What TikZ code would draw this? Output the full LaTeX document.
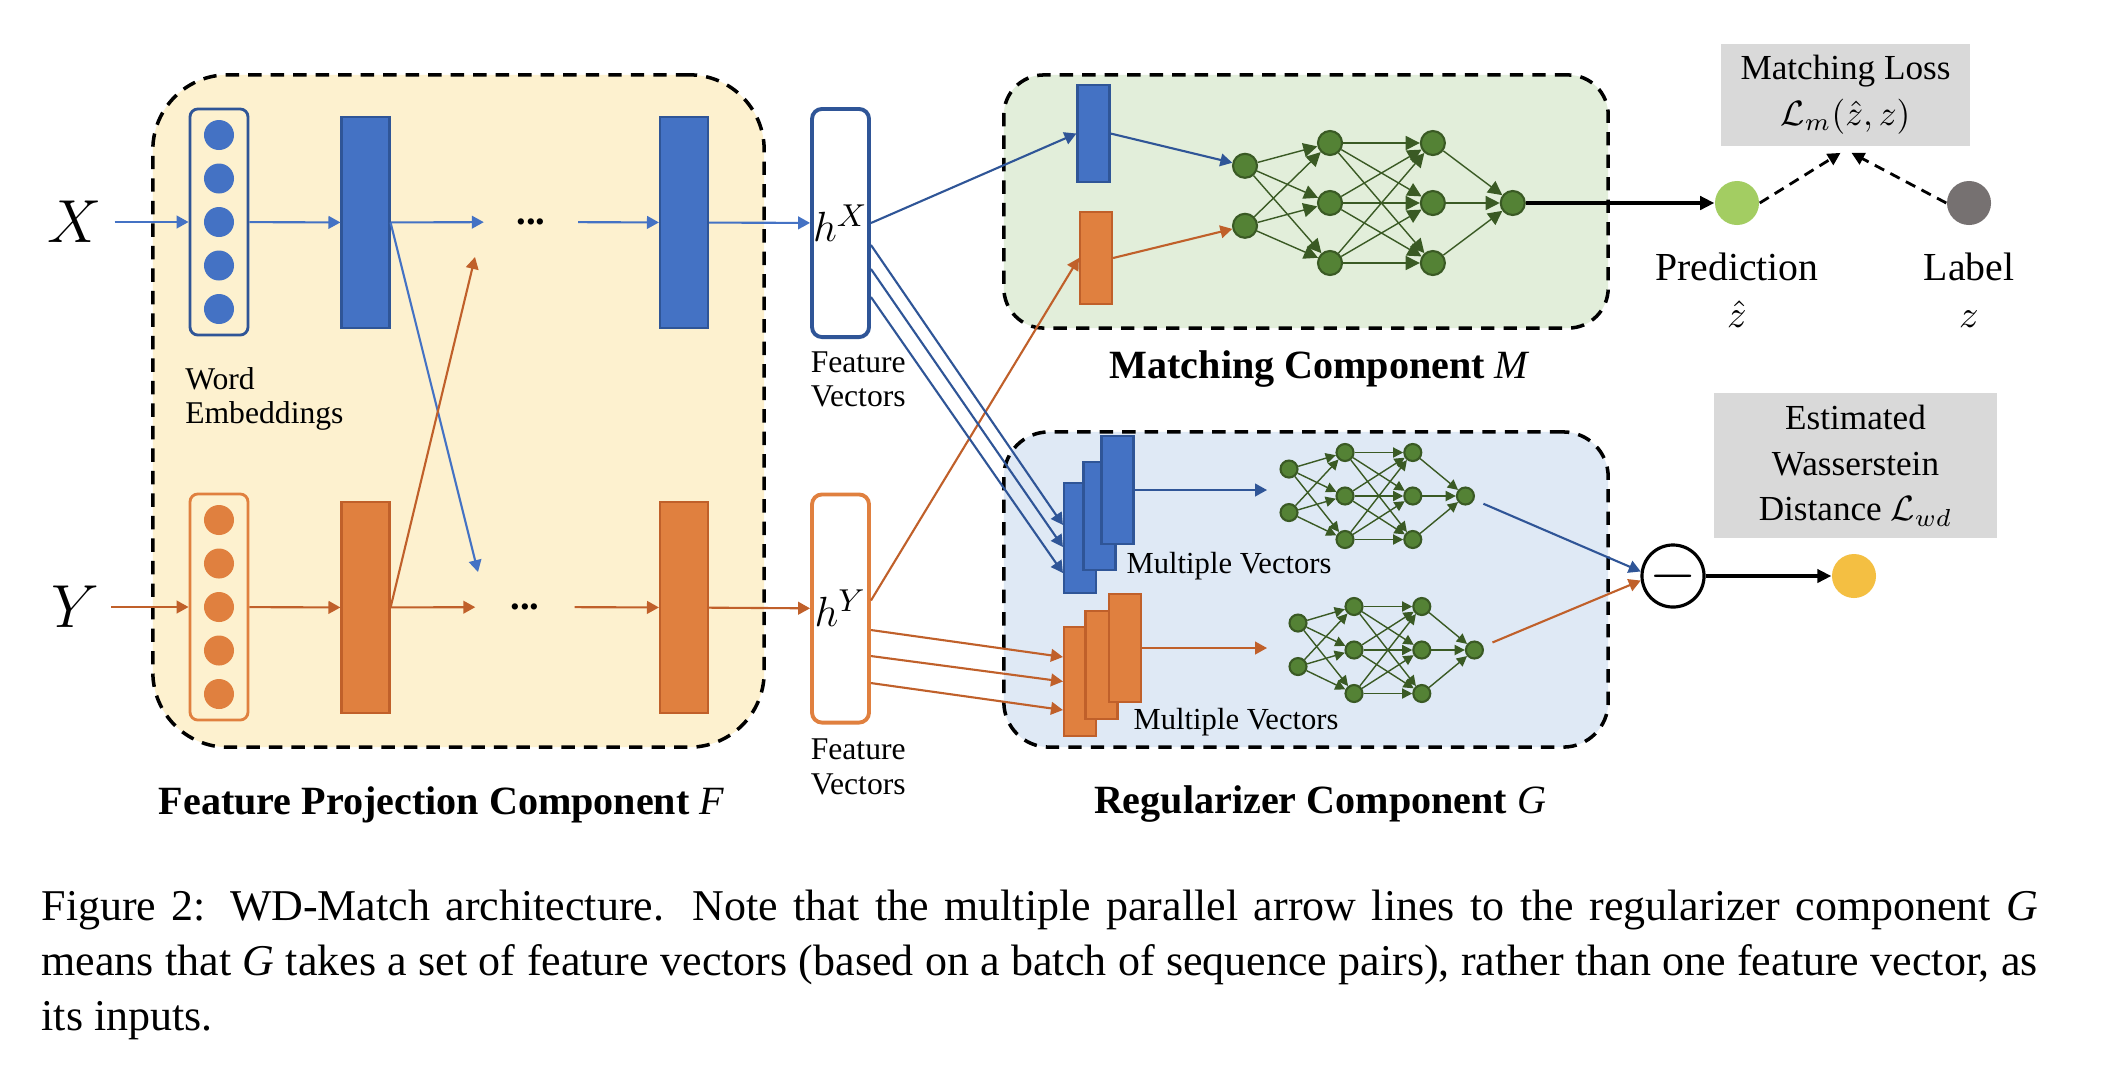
\documentclass[tikz,border=0pt]{standalone}
\usepackage{fontspec}
\setmainfont{Liberation Serif}
\usetikzlibrary{shapes.geometric, arrows.meta, positioning}

\definecolor{embblue}{HTML}{4472C4}
\definecolor{darkblue}{HTML}{2F5597}
\definecolor{emborange}{HTML}{E0803F}
\definecolor{darkorange}{HTML}{C0602A}
\definecolor{featbg}{HTML}{FDF1CF}
\definecolor{matchbg}{HTML}{E2EEDA}
\definecolor{regbg}{HTML}{DFE9F5}
\definecolor{nnfill}{HTML}{548235}
\definecolor{nnline}{HTML}{3A5A24}
\definecolor{lossgrey}{HTML}{D9D9D9}
\definecolor{predgreen}{HTML}{A3CD62}
\definecolor{labelgrey}{HTML}{767171}
\definecolor{wdyellow}{HTML}{F4BF42}

\tikzstyle{component} = [rectangle, draw=black, line width=1pt, dash pattern=on 3.8pt off 2.6pt]
\tikzstyle{embcol} = [rectangle, rounded corners=0.08cm, minimum width=0.58cm, minimum height=2.26cm, line width=0.8pt]
\tikzstyle{embdot} = [circle, minimum size=0.30cm, inner sep=0pt]
\tikzstyle{layer} = [rectangle, minimum width=0.48cm, minimum height=2.11cm, line width=0.6pt, inner sep=0pt]
\tikzstyle{smallvec} = [rectangle, minimum width=0.32cm, minimum height=0.95cm, line width=0.6pt, inner sep=0pt]
\tikzstyle{featvec} = [rectangle, rounded corners=0.1cm, minimum width=0.57cm, minimum height=2.28cm, fill=white, line width=1.1pt, inner sep=0pt]
\tikzstyle{neuron} = [circle, fill=nnfill, draw=nnline, line width=0.6pt, inner sep=0pt]
\tikzstyle{lossbox} = [rectangle, fill=lossgrey, align=center, font=\fontsize{10}{13}\selectfont]
\tikzstyle{outcirc} = [circle, minimum size=0.44cm, inner sep=0pt]
\tikzstyle{diffcirc} = [circle, draw=black, fill=white, line width=0.9pt, minimum size=0.44cm, inner sep=0pt, font=\fontsize{17}{17}\selectfont]
\tikzstyle{barrow} = [line width=0.6pt, draw=embblue, -{Triangle[length=3.4pt,width=3.6pt]}]
\tikzstyle{darrow} = [line width=0.6pt, draw=darkblue, -{Triangle[length=3.4pt,width=3.6pt]}]
\tikzstyle{oarrow} = [line width=0.6pt, draw=darkorange, -{Triangle[length=3.4pt,width=3.6pt]}]
\tikzstyle{arrow} = [line width=0.9pt, -{Triangle[length=4pt,width=3.8pt]}]
\tikzstyle{dasharrow} = [line width=0.8pt, dash pattern=on 3pt off 2pt, -{Triangle[length=3.6pt,width=3.6pt]}]
\tikzstyle{complabel} = [font=\fontsize{11.4}{13}\selectfont\bfseries]
\tikzstyle{smalllabel} = [font=\fontsize{9}{9.8}\selectfont, align=left, inner sep=0pt]
\tikzstyle{bigmath} = [font=\fontsize{16}{16}\selectfont]
\tikzstyle{predlabel} = [font=\fontsize{11.3}{13.4}\selectfont, align=center, inner sep=0pt]
\tikzstyle{caption} = [anchor=north west, text width=19.95cm, align=justify, inner sep=0pt, font=\fontsize{12.5}{15.7}\selectfont]
\tikzset{nnedge/.style={draw=nnline, line width=0.4pt, -{Triangle[length=#1,width=#1]}}}

% small network: #1 name, #2 x, #3 y, #4 layer gap, #5 row gap, #6 neuron size, #7 tip size
\newcommand{\mlpnet}[7]{%
  \foreach \k/\row in {1/-0.62, 2/0.38}
    \node[neuron, minimum size=#6] (#1a\k) at ({#2}, {#3+(\row)*#5}) {};
  \foreach \k/\row in {1/-1, 2/0, 3/1} {
    \node[neuron, minimum size=#6] (#1b\k) at ({#2+#4}, {#3+(\row)*#5}) {};
    \node[neuron, minimum size=#6] (#1c\k) at ({#2+2.21*#4}, {#3+(\row)*#5}) {};
  }
  \node[neuron, minimum size=#6] (#1d) at ({#2+3.15*#4}, #3) {};
  \foreach \i in {1,2}
    \foreach \j in {1,2,3}
      \draw[nnedge=#7] (#1a\i) -- (#1b\j);
  \foreach \i in {1,2,3}
    \foreach \j in {1,2,3}
      \draw[nnedge=#7] (#1b\i) -- (#1c\j);
  \foreach \i in {1,2,3}
    \draw[nnedge=#7] (#1c\i) -- (#1d);
}

\begin{document}
\begin{tikzpicture}[x=0.01cm, y=-0.01cm]
\fill[white] (0,0) rectangle (2128,1072);
\useasboundingbox (0,0) rectangle (2128,1072);

% Components
\node[component, fill=featbg, rounded corners=0.75cm, minimum width=6.11cm, minimum height=6.72cm] (fcomp) at (458.5,411) {};
\node[component, fill=matchbg, rounded corners=0.4cm, minimum width=6.04cm, minimum height=2.53cm] (mcomp) at (1306,201.5) {};
\node[component, fill=regbg, rounded corners=0.45cm, minimum width=6.04cm, minimum height=3.15cm] (rcomp) at (1306,589.5) {};

% Inputs and word embeddings
\node[bigmath] (xin) at (75,222) {$X$};
\node[bigmath] (yin) at (75,607) {$Y$};
\node[embcol, draw=darkblue] (xemb) at (219,222) {};
\node[embcol, draw=emborange] (yemb) at (219,607) {};
\foreach \k in {1,...,5} {
  \node[embdot, fill=embblue] (xdot\k) at (219,{222+(\k-3)*43.5}) {};
  \node[embdot, fill=emborange] (ydot\k) at (219,{607+(\k-3)*43.5}) {};
}
\node[smalllabel, below right=0.3cm and -0.04cm of xemb.south west] (embtxt) {Word\\Embeddings};

% Projection layers
\node[layer, fill=embblue, draw=darkblue] (xproj1) at (365.5,222.5) {};
\node[layer, fill=embblue, draw=darkblue] (xproj2) at (684,222.5) {};
\node[layer, fill=emborange, draw=darkorange] (yproj1) at (365.5,607.5) {};
\node[layer, fill=emborange, draw=darkorange] (yproj2) at (684,607.5) {};
\node[minimum width=0.93cm, inner sep=0pt, font=\fontsize{11}{11}\selectfont\bfseries] (xdots) at (531,222) {...};
\node[minimum width=0.98cm, inner sep=0pt, font=\fontsize{11}{11}\selectfont\bfseries] (ydots) at (525,607) {...};
\coordinate (xcross) at (478,572);
\coordinate (ycross) at (475,257);

% Feature vectors
\node[featvec, draw=darkblue] (hx) at (840.5,223) {\fontsize{13}{13}\selectfont$h^X$};
\node[featvec, draw=emborange] (hy) at (840.5,608.5) {\fontsize{13}{13}\selectfont$h^Y$};
\node[smalllabel, below right=0.12cm and 0cm of hx.south west] (hxtxt) {Feature\\Vectors};
\node[smalllabel, below right=0.14cm and 0cm of hy.south west] (hytxt) {Feature\\Vectors};

% Matching component
\node[smallvec, fill=embblue, draw=darkblue, minimum height=0.97cm] (mx) at (1093.5,133.5) {};
\node[smallvec, fill=emborange, draw=darkorange, minimum height=0.92cm] (my) at (1096,258) {};
\mlpnet{nm}{1245}{203}{85}{60}{0.24cm}{4pt}

% Regularizer component
\node[smallvec, fill=embblue, draw=darkblue, minimum height=1.10cm] (bstack1) at (1080,538) {};
\node[smallvec, fill=embblue, draw=darkblue, minimum height=1.08cm] (bstack2) at (1099.5,516) {};
\node[smallvec, fill=embblue, draw=darkblue, minimum height=1.08cm] (bstack3) at (1117.5,490) {};
\node[smallvec, fill=emborange, draw=darkorange, minimum height=1.09cm] (ostack1) at (1080,681.5) {};
\node[smallvec, fill=emborange, draw=darkorange, minimum height=1.08cm] (ostack2) at (1101.5,665) {};
\node[smallvec, fill=emborange, draw=darkorange, minimum height=1.08cm] (ostack3) at (1125,648) {};
\node[smalllabel, font=\fontsize{8.7}{10}\selectfont, anchor=west] (bmulti) at (1126,566) {Multiple Vectors};
\node[smalllabel, font=\fontsize{8.7}{10}\selectfont, anchor=west] (omulti) at (1133,722) {Multiple Vectors};
\mlpnet{rb}{1289}{496}{56}{43.5}{0.17cm}{2.9pt}
\mlpnet{ro}{1298}{650}{56}{43.5}{0.17cm}{2.9pt}
\coordinate (rbin) at (1267,490);
\coordinate (roin) at (1267,648);

% Losses
\node[outcirc, fill=predgreen] (pred) at (1737,203) {};
\node[outcirc, fill=labelgrey] (lbl) at (1969,203) {};
\node[lossbox, minimum width=2.49cm, minimum height=1.0cm] (mloss) at (1845.5,95) {Matching Loss\\$\mathcal{L}_m(\hat{z},z)$};
\node[predlabel, below=0.26cm of pred] (predtxt) {Prediction\\$\hat{z}$};
\node[predlabel, below=0.26cm of lbl] (lbltxt) {Label\\$z$};
\node[diffcirc] (diff) at (1673,576) {$-$};
\node[outcirc, fill=wdyellow] (wdist) at (1854,576) {};
\node[lossbox, minimum width=2.83cm, minimum height=1.43cm] (wdloss) at (1855.5,465.5) {Estimated\\Wasserstein\\Distance $\mathcal{L}_{wd}$};

% Component labels
\node[complabel, below=0.25cm of fcomp, xshift=-0.17cm] (ftxt) {Feature Projection Component {\mdseries\itshape F}};
\node[complabel, below=0.08cm of mcomp, xshift=0.13cm] (mtxt) {Matching Component {\mdseries\itshape M}};
\node[complabel, below=0.24cm of rcomp, xshift=0.14cm] (rtxt) {Regularizer Component {\mdseries\itshape G}};

% Caption
\node[caption] (caption) at (41,889) {Figure 2: WD-Match architecture. Note that the multiple parallel arrow lines to the regularizer component \textit{G}\linebreak means that \textit{G} takes a set of feature vectors (based on a batch of sequence pairs), rather than one feature vector, as\linebreak its inputs.};

% Arrows
\draw[barrow] (xin) -- (xemb);
\draw[barrow] (xemb) -- (xproj1);
\draw[barrow] (xproj1) -- (xdots);
\draw[barrow] (xdots) -- (xproj2);
\draw[barrow] (xproj2) -- (hx);
\draw[barrow] (xproj1.east) -- (xcross);
\draw[oarrow] (yin) -- (yemb);
\draw[oarrow] (yemb) -- (yproj1);
\draw[oarrow] (yproj1) -- (ydots);
\draw[oarrow] (ydots) -- (yproj2);
\draw[oarrow] (yproj2) -- (hy);
\draw[oarrow] (yproj1.east) -- (ycross);

\draw[darrow] (hx.east) -- (mx.west);
\draw[oarrow] ([yshift=0.08cm]hy.east) -- (my.west);
\draw[darrow] (mx.east) -- (nma1);
\draw[oarrow] (my.east) -- (nma2);
\draw[arrow] (nmd) -- (pred);
\draw[dasharrow] (pred.east) -- ([xshift=-0.05cm,yshift=-0.06cm]mloss.south);
\draw[dasharrow] (lbl.west) -- ([xshift=0.06cm,yshift=-0.06cm]mloss.south);

\foreach \s/\t in {0.22cm/0.13cm, 0.46cm/-0.09cm, 0.74cm/-0.35cm}
  \draw[darrow] ([yshift=-\s]hx.east) -- ([yshift=\t]bstack1.west);
\foreach \s/\t in {0.215cm/0.245cm, 0.475cm/0cm, 0.745cm/-0.285cm}
  \draw[oarrow] ([yshift=-\s]hy.east) -- ([yshift=\t]ostack1.west);
\draw[darrow] (bstack3.east) -- (rbin);
\draw[oarrow] (ostack3.east) -- (roin);
\draw[darrow, shorten <=0.1cm] (rbd) -- (diff.172);
\draw[oarrow, shorten <=0.1cm] (rod) -- (diff.188);
\draw[arrow] (diff) -- (wdist);

\end{tikzpicture}
\end{document}
